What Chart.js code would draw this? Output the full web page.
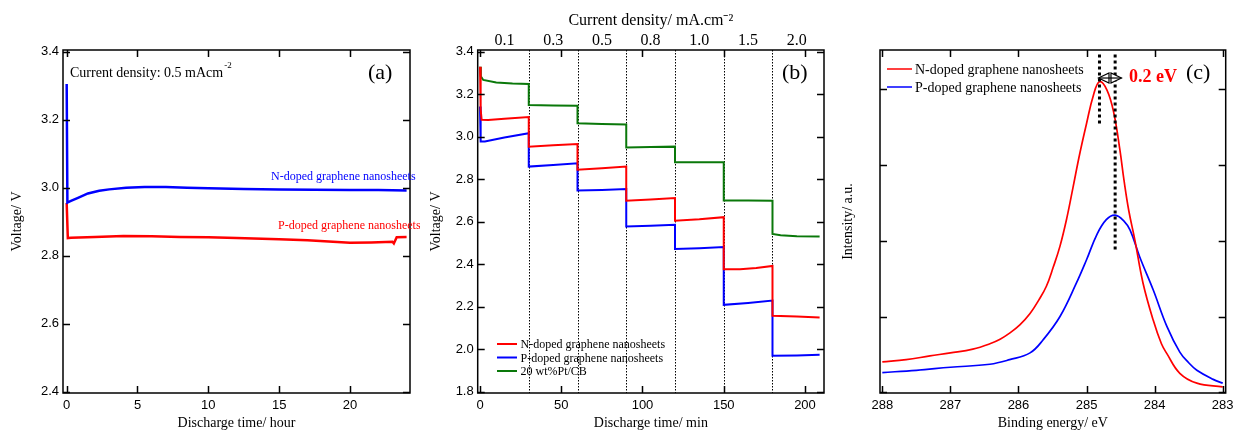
<!DOCTYPE html>
<html>
<head>
<meta charset="utf-8">
<script src="https://cdn.jsdelivr.net/npm/chart.js@4.4.0/dist/chart.umd.min.js"></script>
<style>
  body { margin: 0; background: #fff; width: 1234px; height: 432px; position: relative; overflow: hidden; }
  canvas { position: absolute; top: 0; }
</style>
</head>
<body>
<canvas id="ca" width="420" height="432" style="left:0px"></canvas>
<canvas id="cb" width="420" height="432" style="left:420px"></canvas>
<canvas id="cc" width="394" height="432" style="left:840px"></canvas>
<script>
// (a) long discharge at 0.5 mA/cm2
var hourN = [0, 0.05, 0.3, 0.8, 1.5, 2.3, 3, 4.2, 5.5, 7, 8.5, 10, 12.5, 15, 17.5, 20, 22, 24];
var voltN = [3.305, 2.956, 2.961, 2.970, 2.983, 2.991, 2.995, 3.000, 3.002, 3.002, 3.000, 2.998, 2.996, 2.995, 2.994, 2.993, 2.993, 2.992];
var hourP = [0, 0.08, 0.3, 2, 4, 6, 8, 10, 12, 15, 17, 18.8, 20, 21.5, 23, 23.1, 23.3, 24];
var voltP = [2.955, 2.852, 2.853, 2.855, 2.858, 2.857, 2.855, 2.854, 2.852, 2.848, 2.845, 2.841, 2.838, 2.839, 2.841, 2.836, 2.854, 2.855];
var hourTicks = [0, 5, 10, 15, 20];
var voltTicksA = [2.4, 2.6, 2.8, 3.0, 3.2, 3.4];

// (b) rate steps
var minRed = [0, 0.4, 1, 5, 15, 30, 30, 45, 60, 60, 75, 90, 90, 105, 120, 120, 135, 150, 150, 160, 170, 180, 180, 195, 209];
var voltRed = [3.33, 3.13, 3.08, 3.079, 3.085, 3.093, 2.954, 2.96, 2.966, 2.845, 2.852, 2.86, 2.699, 2.705, 2.712, 2.605, 2.612, 2.622, 2.377, 2.377, 2.383, 2.392, 2.158, 2.154, 2.15];
var minBlue = [0, 0.4, 3, 15, 30, 30, 45, 60, 60, 75, 90, 90, 105, 120, 120, 135, 150, 150, 165, 180, 180, 195, 209];
var voltBlue = [3.143, 2.978, 2.978, 2.997, 3.017, 2.86, 2.868, 2.876, 2.747, 2.75, 2.754, 2.578, 2.582, 2.586, 2.472, 2.476, 2.481, 2.209, 2.218, 2.229, 1.969, 1.971, 1.974];
var minGreen = [0, 0.5, 2, 10, 20, 30, 30, 45, 60, 60, 75, 90, 90, 105, 120, 120, 135, 150, 150, 165, 180, 180, 185, 195, 209];
var voltGreen = [3.33, 3.285, 3.268, 3.256, 3.251, 3.249, 3.15, 3.148, 3.146, 3.064, 3.06, 3.058, 2.95, 2.952, 2.954, 2.881, 2.881, 2.881, 2.70, 2.70, 2.699, 2.543, 2.537, 2.532, 2.531];
var minTicks = [0, 50, 100, 150, 200];
var voltTicksB = [1.8, 2.0, 2.2, 2.4, 2.6, 2.8, 3.0, 3.2, 3.4];
var stepEdges = [30, 60, 90, 120, 150, 180];
var densityPos = [15, 45, 75, 105, 135, 165, 195];
var densityLabels = ['0.1', '0.3', '0.5', '0.8', '1.0', '1.5', '2.0'];

// (c) C1s XPS
var energyN = [288, 287.65, 287.3, 287.0, 286.67, 286.42, 286.27, 286.13, 285.98, 285.83, 285.7, 285.59, 285.49, 285.39, 285.29, 285.2, 285.1, 285.0, 284.9, 284.81, 284.7, 284.6, 284.51, 284.45, 284.38, 284.29, 284.17, 284.02, 283.9, 283.82, 283.63, 283.38, 283.0];
var countsN = [0.40, 0.43, 0.48, 0.52, 0.57, 0.64, 0.70, 0.78, 0.89, 1.04, 1.22, 1.40, 1.65, 1.93, 2.30, 2.70, 3.15, 3.55, 3.92, 4.10, 3.99, 3.69, 3.20, 2.80, 2.40, 2.01, 1.44, 0.95, 0.64, 0.51, 0.25, 0.12, 0.07];
var energyP = [288, 287.5, 287, 286.42, 286.13, 285.83, 285.64, 285.39, 285.15, 285.0, 284.85, 284.71, 284.58, 284.45, 284.36, 284.22, 284.02, 283.82, 283.63, 283.5, 283.38, 283.14, 283.0];
var countsP = [0.26, 0.29, 0.33, 0.37, 0.43, 0.52, 0.69, 1.0, 1.44, 1.75, 2.08, 2.28, 2.34, 2.26, 2.14, 1.79, 1.35, 0.87, 0.53, 0.39, 0.29, 0.17, 0.12];
var energyTicks = [288, 287, 286, 285, 284, 283];
var countTicks = [0, 1, 2, 3, 4];
var peakN = 284.81, peakP = 284.58;

var RED = '#ff0000', BLUE = '#0000ff', GREEN = '#0a780a';
var SERIF = '"Liberation Serif", "Times New Roman", serif';
var SANS = '"Liberation Sans", Arial, sans-serif';

Chart.defaults.font.family = SANS;
Chart.defaults.color = '#000';
Chart.defaults.animation = false;

function pts(xs, ys) {
  return xs.map(function (x, i) { return {x: x, y: ys[i]}; });
}
function fixed(values) {
  return function (s) { s.ticks = values.map(function (v) { return {value: v}; }); };
}
function one(v) { return v.toFixed(1); }

// box round the plot with inward ticks on all four sides
var boxTicks = {
  id: 'boxTicks',
  afterDraw: function (chart) {
    var ctx = chart.ctx, a = chart.chartArea, x = chart.scales.x, y = chart.scales.y;
    ctx.save();
    ctx.strokeStyle = '#000';
    ctx.lineWidth = 1.5;
    ctx.strokeRect(a.left, a.top, a.right - a.left, a.bottom - a.top);
    ctx.beginPath();
    x.ticks.forEach(function (t) {
      var p = Math.round(x.getPixelForValue(t.value)) + 0.5;
      ctx.moveTo(p, a.bottom); ctx.lineTo(p, a.bottom - 7);
      ctx.moveTo(p, a.top); ctx.lineTo(p, a.top + 7);
    });
    y.ticks.forEach(function (t) {
      var p = Math.round(y.getPixelForValue(t.value)) + 0.5;
      ctx.moveTo(a.left, p); ctx.lineTo(a.left + 7, p);
      ctx.moveTo(a.right, p); ctx.lineTo(a.right - 7, p);
    });
    ctx.stroke();
    ctx.restore();
  }
};

function xAxis(min, max, ticks, title, extra) {
  var o = {
    type: 'linear', min: min, max: max,
    afterBuildTicks: fixed(ticks),
    afterFit: function (s) { s.height = 39; s.paddingLeft = 0; s.paddingRight = 0; },
    grid: {display: false, drawTicks: false},
    border: {display: false},
    ticks: {padding: 5, font: {size: 13}, maxRotation: 0, autoSkip: false},
    title: {display: true, text: title, font: {family: SERIF, size: 14}, padding: 0}
  };
  return Object.assign(o, extra || {});
}
function yAxis(min, max, ticks, title, width, tpad, cb) {
  return {
    min: min, max: max,
    afterBuildTicks: fixed(ticks),
    afterFit: function (s) { s.width = width; s.paddingTop = 0; s.paddingBottom = 0; },
    grid: {display: false, drawTicks: false},
    border: {display: false},
    ticks: {padding: 4, font: {size: 13}, callback: cb},
    title: {display: true, text: title, font: {family: SERIF, size: 14}, padding: {top: tpad, bottom: 0}}
  };
}

// ---------- (a)
var notesA = {
  id: 'notesA',
  afterDraw: function (chart) {
    var ctx = chart.ctx, ds = chart.data.datasets;
    ctx.save();
    ctx.fillStyle = '#000';
    ctx.font = '14px ' + SERIF;
    var txt = 'Current density: 0.5 mAcm';
    ctx.fillText(txt, 70, 77);
    var w = ctx.measureText(txt).width;
    ctx.font = '9px ' + SERIF;
    ctx.fillText('-2', 70 + w + 1, 68);
    ctx.font = '22px ' + SERIF;
    ctx.fillText('(a)', 368, 79);
    ctx.font = '12px ' + SERIF;
    ctx.fillStyle = ds[0].borderColor;
    ctx.fillText(ds[0].label, 271, 180);
    ctx.fillStyle = ds[1].borderColor;
    ctx.fillText(ds[1].label, 278, 229);
    ctx.restore();
  }
};

new Chart(document.getElementById('ca'), {
  type: 'line',
  data: {
    datasets: [
      {label: 'N-doped graphene nanosheets', data: pts(hourN, voltN), borderColor: BLUE, borderWidth: 2.5, pointRadius: 0, tension: 0},
      {label: 'P-doped graphene nanosheets', data: pts(hourP, voltP), borderColor: RED, borderWidth: 2.5, pointRadius: 0, tension: 0}
    ]
  },
  options: {
    responsive: false,
    layout: {padding: {left: 0, right: 10, top: 50, bottom: 0}},
    plugins: {legend: {display: false}, tooltip: {enabled: false}},
    scales: {
      x: xAxis(-0.26, 24.24, hourTicks, 'Discharge time/ hour'),
      y: yAxis(2.396, 3.405, voltTicksA, 'Voltage/ V', 63, 9, one)
    }
  },
  plugins: [boxTicks, notesA]
});

// ---------- (b)
var notesB = {
  id: 'notesB',
  beforeDatasetsDraw: function (chart) {
    var ctx = chart.ctx, a = chart.chartArea, x = chart.scales.x;
    ctx.save();
    ctx.strokeStyle = '#000';
    ctx.lineWidth = 1;
    ctx.setLineDash([1.5, 1.5]);
    ctx.beginPath();
    stepEdges.forEach(function (t) {
      var p = Math.round(x.getPixelForValue(t)) + 0.5;
      ctx.moveTo(p, a.top); ctx.lineTo(p, a.bottom);
    });
    ctx.stroke();
    ctx.restore();
  },
  afterDraw: function (chart) {
    var ctx = chart.ctx, ds = chart.data.datasets;
    ctx.save();
    ctx.font = '22px ' + SERIF;
    ctx.fillStyle = '#000';
    ctx.fillText('(b)', 362, 79);
    ctx.font = '12px ' + SERIF;
    var ys = [344, 357.5, 371];
    ds.forEach(function (d, i) {
      ctx.strokeStyle = d.borderColor;
      ctx.lineWidth = 2;
      ctx.beginPath();
      ctx.moveTo(77, ys[i]); ctx.lineTo(97, ys[i]);
      ctx.stroke();
      ctx.fillStyle = '#000';
      ctx.fillText(d.label, 100.5, ys[i] + 4);
    });
    ctx.restore();
  }
};

new Chart(document.getElementById('cb'), {
  type: 'line',
  data: {
    datasets: [
      {label: 'N-doped graphene nanosheets', data: pts(minRed, voltRed), borderColor: RED, borderWidth: 2, pointRadius: 0, tension: 0},
      {label: 'P-doped graphene nanosheets', data: pts(minBlue, voltBlue), borderColor: BLUE, borderWidth: 2, pointRadius: 0, tension: 0},
      {label: '20 wt%Pt/CB', data: pts(minGreen, voltGreen), borderColor: GREEN, borderWidth: 2, pointRadius: 0, tension: 0}
    ]
  },
  options: {
    responsive: false,
    layout: {padding: {left: 0, right: 16, top: 0, bottom: 0}},
    plugins: {legend: {display: false}, tooltip: {enabled: false}},
    scales: {
      x: xAxis(-1.42, 211.7, minTicks, 'Discharge time/ min'),
      x2: {
        type: 'linear', position: 'top', min: -1.42, max: 211.7,
        afterBuildTicks: fixed(densityPos),
        afterFit: function (s) { s.height = 50; s.paddingLeft = 0; s.paddingRight = 0; },
        grid: {display: false, drawTicks: false},
        border: {display: false},
        ticks: {padding: 0, font: {family: SERIF, size: 16}, maxRotation: 0, autoSkip: false,
          callback: function (v, i) { return densityLabels[i]; }},
        title: {display: true, text: 'Current density/ mA.cm\u207B\u00B2', font: {family: SERIF, size: 16}, padding: {top: 11, bottom: 0}}
      },
      y: yAxis(1.794, 3.409, voltTicksB, 'Voltage/ V', 57.7, 8, one)
    }
  },
  plugins: [boxTicks, notesB]
});

// ---------- (c)
var notesC = {
  id: 'notesC',
  afterDraw: function (chart) {
    var ctx = chart.ctx, ds = chart.data.datasets, x = chart.scales.x, y = chart.scales.y;
    ctx.save();
    // peak position markers
    ctx.strokeStyle = '#000';
    ctx.lineWidth = 3;
    ctx.setLineDash([3, 3]);
    ctx.beginPath();
    var pn = x.getPixelForValue(peakN), pp = x.getPixelForValue(peakP);
    ctx.moveTo(pn, y.getPixelForValue(4.46)); ctx.lineTo(pn, y.getPixelForValue(3.53));
    ctx.moveTo(pp, y.getPixelForValue(4.46)); ctx.lineTo(pp, y.getPixelForValue(1.88));
    ctx.stroke();
    ctx.setLineDash([]);
    // double arrow
    var ay = y.getPixelForValue(4.15), l = pn - 1, r = pn + 22, m = (l + r) / 2;
    ctx.lineWidth = 1.2;
    ctx.fillStyle = '#fff';
    ctx.beginPath();
    ctx.moveTo(l, ay); ctx.lineTo(m - 1, ay - 5); ctx.lineTo(m - 1, ay + 5); ctx.closePath();
    ctx.moveTo(r, ay); ctx.lineTo(m + 1, ay - 5); ctx.lineTo(m + 1, ay + 5); ctx.closePath();
    ctx.fill(); ctx.stroke();
    ctx.beginPath(); ctx.moveTo(l, ay); ctx.lineTo(r, ay); ctx.stroke();
    // texts
    ctx.fillStyle = RED;
    ctx.font = 'bold 18px ' + SERIF;
    ctx.fillText('0.2 eV', 289, 82);
    ctx.fillStyle = '#000';
    ctx.font = '22px ' + SERIF;
    ctx.fillText('(c)', 346, 79);
    // legend
    ctx.font = '14px ' + SERIF;
    var ys = [69, 87];
    ds.forEach(function (d, i) {
      ctx.strokeStyle = d.borderColor;
      ctx.lineWidth = 1.5;
      ctx.beginPath();
      ctx.moveTo(47, ys[i]); ctx.lineTo(72, ys[i]);
      ctx.stroke();
      ctx.fillStyle = '#000';
      ctx.fillText(d.label, 75, ys[i] + 5);
    });
    ctx.restore();
  }
};

new Chart(document.getElementById('cc'), {
  type: 'line',
  data: {
    datasets: [
      {label: 'N-doped graphene nanosheets', data: pts(energyN, countsN), borderColor: RED, borderWidth: 1.7, pointRadius: 0, tension: 0.4},
      {label: 'P-doped graphene nanosheets', data: pts(energyP, countsP), borderColor: BLUE, borderWidth: 1.7, pointRadius: 0, tension: 0.4}
    ]
  },
  options: {
    responsive: false,
    layout: {padding: {left: 0, right: 8.3, top: 50, bottom: 0}},
    plugins: {legend: {display: false}, tooltip: {enabled: false}},
    scales: {
      x: xAxis(282.956, 288.034, energyTicks, 'Binding energy/ eV', {reverse: true}),
      y: yAxis(-0.01, 4.52, countTicks, 'Intensity/ a.u.', 40, 0, function () { return ''; })
    }
  },
  plugins: [boxTicks, notesC]
});
</script>
</body>
</html>
